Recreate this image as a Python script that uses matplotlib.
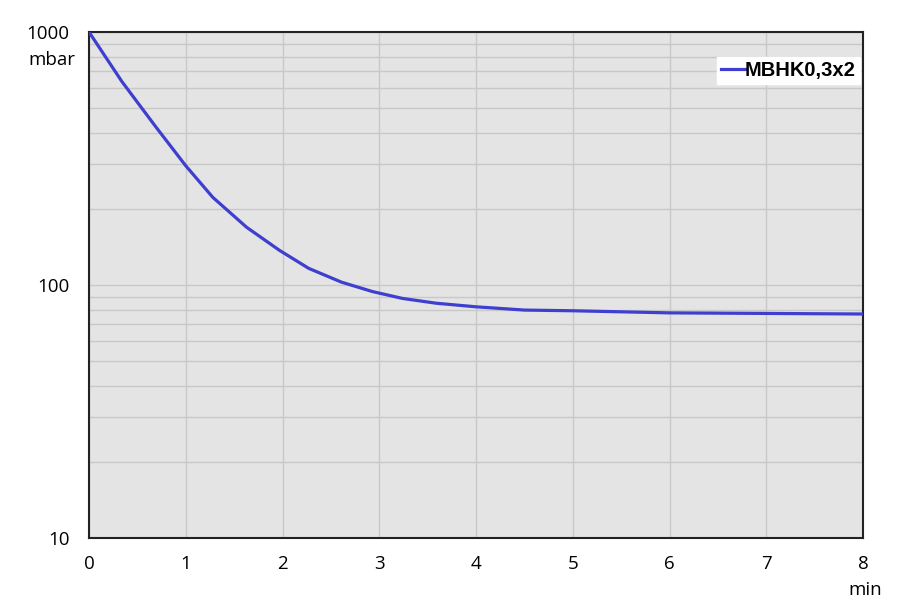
import numpy as np
import matplotlib.pyplot as plt
from matplotlib.ticker import FixedLocator, NullFormatter

# datos
tiempo_min = [0, 0.34, 0.69, 1.0, 1.28, 1.63, 1.97, 2.27, 2.61, 2.93, 3.24, 3.59, 4.0, 4.5, 5.0, 6.0, 7.0, 8.0]
presion_mbar = [1000, 637, 422, 296, 222, 169, 137, 116.4, 102.6, 94.2, 88.5, 84.7, 82, 79.6, 79.1, 77.6, 77.2, 76.8]
serie = "MBHK0,3x2"
x_ticks = [0, 1, 2, 3, 4, 5, 6, 7, 8]
y_ticks = [10, 100, 1000]

fig = plt.figure(figsize=(9, 6.02), dpi=100)
ax = fig.add_axes([89/900, 1 - 538/602, (863-89)/900, (538-32)/602])
ax.set_facecolor('#e4e4e4')

ax.plot(tiempo_min, presion_mbar, color='#3e3ecf', linewidth=2.3, label=serie,
        solid_joinstyle='round', zorder=3)

ax.set_yscale('log')
ax.set_xlim(0, 8)
ax.set_ylim(10, 1000)
ax.xaxis.set_major_locator(FixedLocator(x_ticks))
ax.yaxis.set_major_locator(FixedLocator(y_ticks))
ax.set_yticklabels([str(v) for v in y_ticks])
ax.yaxis.set_minor_locator(FixedLocator([m * d for d in (10, 100) for m in range(2, 10)]))
ax.yaxis.set_minor_formatter(NullFormatter())

ax.grid(True, which='major', color='#c8c8c8', linewidth=1.0)
ax.grid(True, which='minor', axis='y', color='#c8c8c8', linewidth=1.0)
ax.set_axisbelow(True)
ax.tick_params(which='both', length=0)
ax.tick_params(axis='x', pad=12, labelsize=13.5)
ax.tick_params(axis='y', pad=14, labelsize=13.5)
for lbl in ax.get_xticklabels() + ax.get_yticklabels():
    lbl.set_fontfamily('Open Sans')
for s in ax.spines.values():
    s.set_color('#222222')
    s.set_linewidth(1.5)

fig.text(75/900, 1 - 60/602, 'mbar', ha='right', va='center', fontsize=13.5, family='Open Sans')
fig.text(865/900, 1 - 590/602, 'min', ha='center', va='center', fontsize=13.5, family='Open Sans')

leg = ax.legend(loc='upper right', bbox_to_anchor=(860/900, 1 - 57/602),
                bbox_transform=fig.transFigure, frameon=True, fancybox=False,
                handlelength=1.2, handletextpad=0.0, borderpad=0.2, borderaxespad=0.0,
                prop={'family': 'Liberation Sans', 'weight': 'bold', 'size': 14.5})
leg.get_frame().set_facecolor('white')
leg.get_frame().set_edgecolor('white')
leg.get_frame().set_alpha(1)

fig.savefig('out.png', dpi=100)
